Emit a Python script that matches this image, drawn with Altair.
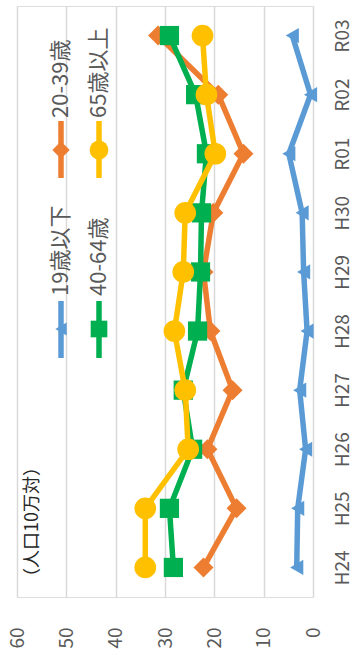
import altair as alt
import pandas as pd

# 年度カテゴリ（H24〜R03）
categories = ["H24", "H25", "H26", "H27", "H28", "H29", "H30", "R01", "R02", "R03"]

# 年齢階級別の値（人口10万対）
age_under19 = [3.3, 3.1, 1.5, 2.7, 1.2, 1.9, 2.2, 4.9, 0.5, 4.2]
age_20_39 = [22.2, 15.5, 21.4, 16.3, 20.8, 22.2, 20.2, 14.1, 19.2, 31.4]
age_40_64 = [28.3, 29.1, 24.4, 26.3, 23.4, 22.8, 22.6, 21.6, 23.8, 29.1]
age_65_over = [34.0, 34.0, 25.3, 25.9, 28.1, 26.3, 25.9, 19.8, 21.6, 22.4]

series_names = ["19歳以下", "20-39歳", "40-64歳", "65歳以上"]
series_values = [age_under19, age_20_39, age_40_64, age_65_over]
series_colors = ["#5B9BD5", "#ED7D31", "#00B050", "#FFC000"]
series_shapes = ["triangle-left", "diamond", "square", "circle"]
series_sizes = [230, 400, 370, 470]

value_ticks = [0, 10, 20, 30, 40, 50, 60]

FONT = "Noto Sans CJK JP"
LABEL_COLOR = "#595959"

rows = []
for name, vals in zip(series_names, series_values):
    for cat, v in zip(categories, vals):
        rows.append({"年度": cat, "系列": name, "値": v})
df = pd.DataFrame(rows)

x_enc = alt.X(
    "値:Q",
    scale=alt.Scale(domain=[0, 60], reverse=True, nice=False, zero=True),
    axis=alt.Axis(
        values=value_ticks,
        orient="bottom",
        labelAngle=270,
        labelAlign="right",
        labelBaseline="middle",
        labelPadding=30,
        ticks=False,
        domain=False,
        grid=True,
        gridColor="#D9D9D9",
        gridWidth=1.5,
        title=None,
        labelFont=FONT,
        labelFontSize=19,
        labelColor=LABEL_COLOR,
    ),
)
y_enc = alt.Y(
    "年度:N",
    sort=list(reversed(categories)),
    scale=alt.Scale(domain=list(reversed(categories))),
    axis=alt.Axis(
        orient="right",
        labelAngle=270,
        labelAlign="center",
        labelBaseline="top",
        labelPadding=20,
        ticks=False,
        domain=False,
        grid=False,
        title=None,
        labelFont=FONT,
        labelFontSize=19,
        labelColor=LABEL_COLOR,
    ),
)

base = alt.Chart(df)
layers = []
for name, color, shape, size in zip(series_names, series_colors, series_shapes, series_sizes):
    sub = base.transform_filter(alt.datum["系列"] == name)
    line = sub.mark_line(color=color, strokeWidth=5.5).encode(x=x_enc, y=y_enc, order=alt.Order("年度:N"))
    pts = sub.mark_point(
        shape=shape, filled=True, color=color, opacity=1, size=size
    ).encode(x=x_enc, y=y_enc)
    layers += [line, pts]

# 凡例（縦書き方向に回転）
one = pd.DataFrame({"k": [0]})
legend_layout = [
    # (列x, 線の上端y, 線の下端y, 記号y, 文字開始y)
    (44, 295, 352, 323, 290),
    (44, 115, 172, 144, 112),
    (82, 295, 352, 323, 290),
    (82, 115, 172, 144, 112),
]
for (lx, ly1, ly2, my, ty), name, color, shape, size in zip(
    legend_layout, series_names, series_colors, series_shapes, series_sizes
):
    c = alt.Chart(one)
    layers.append(
        c.mark_rule(color=color, strokeWidth=5.5).encode(
            x=alt.value(lx), y=alt.value(ly1), y2=alt.value(ly2)
        )
    )
    layers.append(
        c.mark_point(shape=shape, filled=True, color=color, opacity=1, size=size * 0.75).encode(
            x=alt.value(lx), y=alt.value(my)
        )
    )
    layers.append(
        c.mark_text(
            text=name, angle=270, align="left", baseline="middle",
            font=FONT, fontSize=22, color=LABEL_COLOR,
        ).encode(x=alt.value(lx), y=alt.value(ty))
    )

# 単位注記
layers.append(
    alt.Chart(one).mark_text(
        text="（人口10万対）", angle=270, align="center", baseline="middle",
        font=FONT, fontSize=18, color="#262626",
    ).encode(x=alt.value(16), y=alt.value(516))
)

chart = (
    alt.layer(*layers)
    .properties(
        width=296,
        height=591,
        autosize=alt.AutoSizeParams(type="none"),
        padding={"left": 17, "top": 6, "right": 42, "bottom": 58},
    )
    .configure_view(stroke="#D9D9D9", strokeWidth=1.5)
    .configure(background="white")
)

chart.save("out.html", embed_options={"renderer": "svg", "actions": False})
